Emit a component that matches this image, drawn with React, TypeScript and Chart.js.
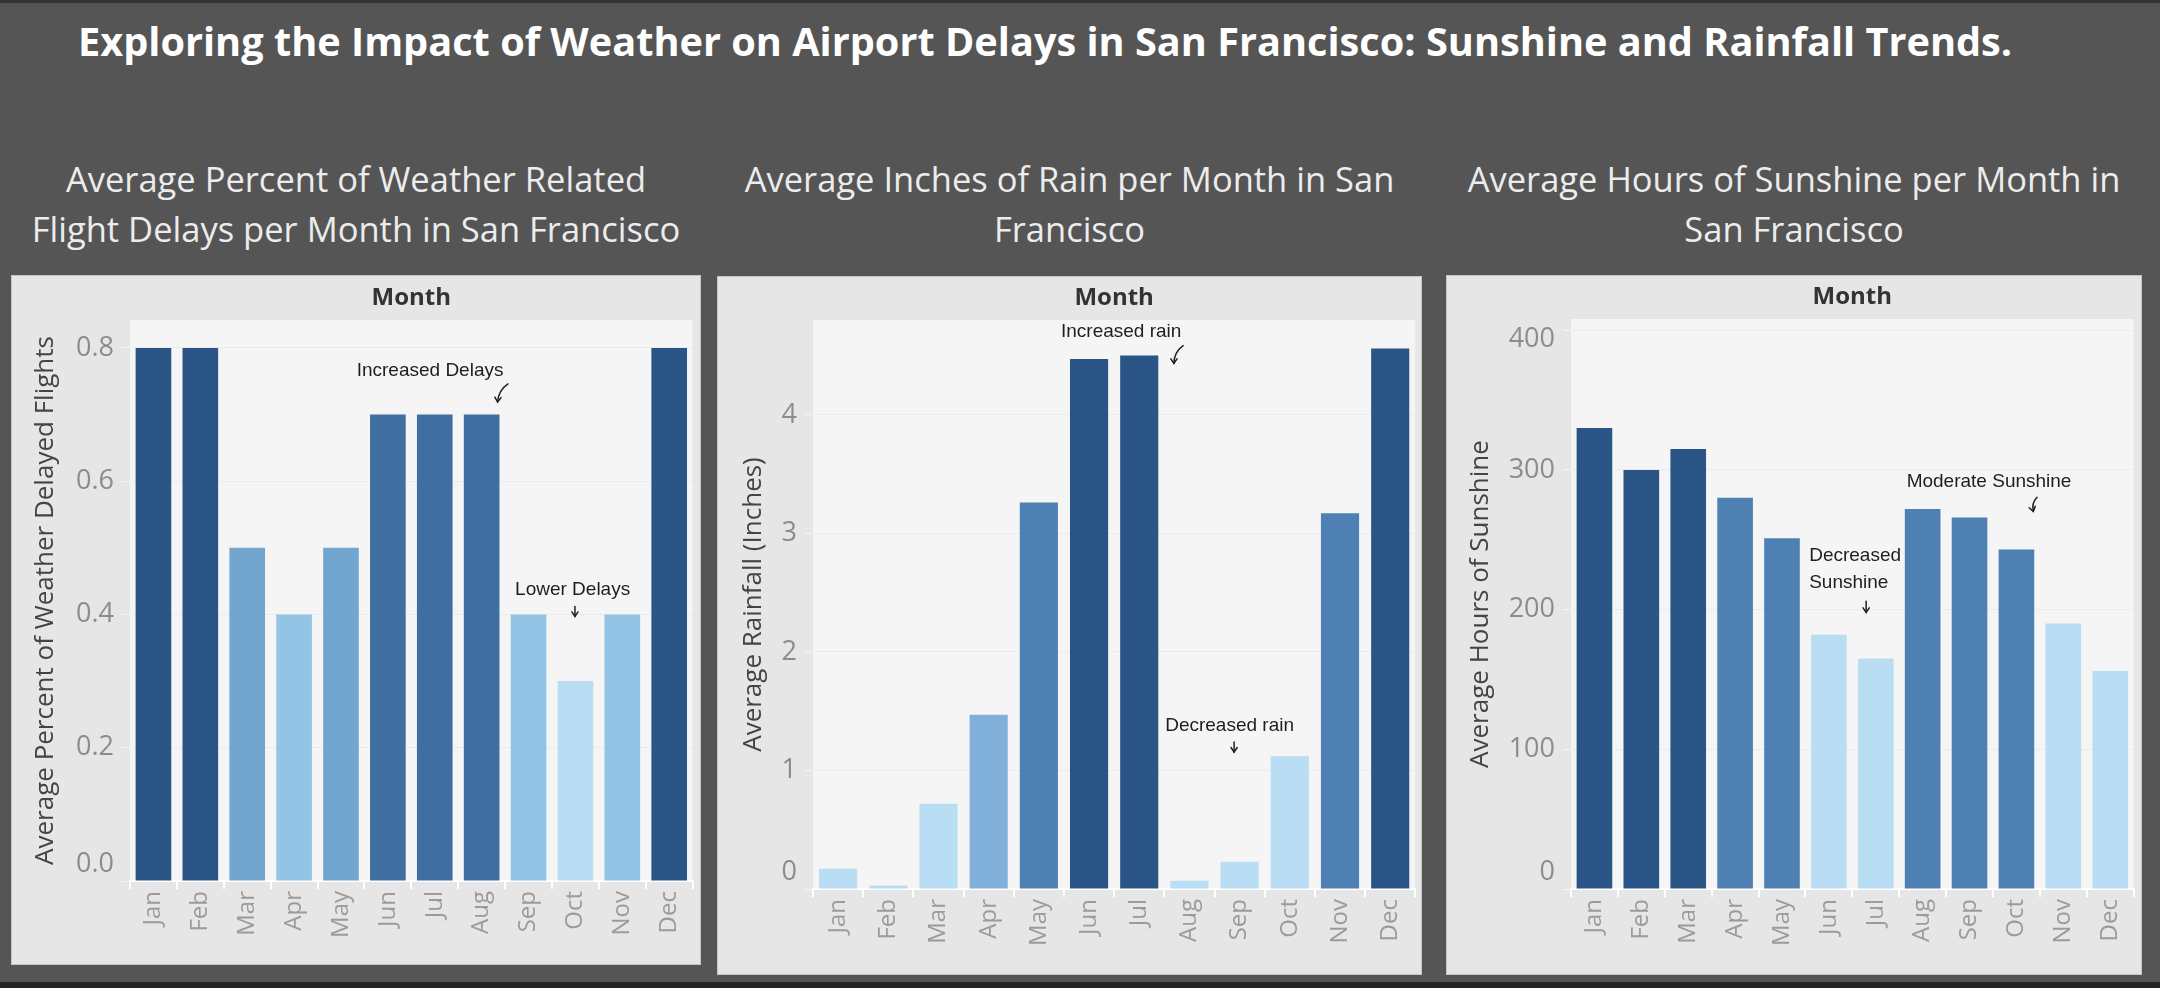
import React, { useEffect, useRef } from 'react';
import { Chart, registerables } from 'chart.js';

Chart.register(...registerables);

// ---------- data ----------
const months = ['Jan', 'Feb', 'Mar', 'Apr', 'May', 'Jun', 'Jul', 'Aug', 'Sep', 'Oct', 'Nov', 'Dec'];

const delayPercent = [0.8, 0.8, 0.5, 0.4, 0.5, 0.7, 0.7, 0.7, 0.4, 0.3, 0.4, 0.8];
const rainfallInches = [0.17, 0.03, 0.72, 1.47, 3.26, 4.47, 4.5, 0.07, 0.23, 1.12, 3.17, 4.56];
const sunshineHours = [330, 300, 315, 280, 251, 182, 165, 272, 266, 243, 190, 156];

const delayTickValues = [0, 0.2, 0.4, 0.6, 0.8];
const rainTickValues = [0, 1, 2, 3, 4];
const sunshineTickValues = [0, 100, 200, 300, 400];

// ---------- styles ----------
const DARK = '#2a5586';
const MID1 = '#3f6fa0';
const MID2 = '#4f80b3';
const MEDL = '#73a6cf';
const MEDL2 = '#80b0d9';
const LIGHT = '#93c3e5';
const PALE = '#b9ddf2';

const delayColors = [DARK, DARK, MEDL, LIGHT, MEDL, MID1, MID1, MID1, LIGHT, PALE, LIGHT, DARK];
const rainColors = [PALE, PALE, PALE, MEDL2, MID2, DARK, DARK, PALE, PALE, PALE, MID2, DARK];
const sunColors = [DARK, DARK, DARK, MID2, MID2, PALE, PALE, MID2, MID2, MID2, PALE, PALE];

const FONT = '"Open Sans", "Noto Sans", sans-serif';
const NOTE_FONT = '"Liberation Sans", Arial, sans-serif';

type Note = { lines: string[]; x: number; y: number; align: CanvasTextAlign };
type Arrow = { x0: number; y0: number; x1: number; y1: number; bend: number };

// annotation anchors, in category-index / value units
const delayNotes: Note[] = [
  { lines: ['Increased Delays'], x: 5.9, y: 0.758, align: 'center' },
  { lines: ['Lower Delays'], x: 8.94, y: 0.43, align: 'center' },
];
const delayArrows: Arrow[] = [
  { x0: 7.56, y0: 0.746, x1: 7.34, y1: 0.719, bend: 5 },
  { x0: 8.99, y0: 0.412, x1: 8.99, y1: 0.397, bend: 0 },
];
const rainNotes: Note[] = [
  { lines: ['Increased rain'], x: 5.64, y: 4.66, align: 'center' },
  { lines: ['Decreased rain'], x: 7.8, y: 1.334, align: 'center' },
];
const rainArrows: Arrow[] = [
  { x0: 6.875, y0: 4.583, x1: 6.69, y1: 4.434, bend: 5 },
  { x0: 7.89, y0: 1.241, x1: 7.89, y1: 1.155, bend: 0 },
];
const sunNotes: Note[] = [
  { lines: ['Moderate Sunshine'], x: 8.416, y: 287.6, align: 'center' },
  { lines: ['Decreased', 'Sunshine'], x: 4.58, y: 235, align: 'left' },
];
const sunArrows: Arrow[] = [
  { x0: 9.44, y0: 280.4, x1: 9.36, y1: 270.3, bend: 4 },
  { x0: 5.795, y0: 206, x1: 5.795, y1: 198, bend: 0 },
];

type Spec = {
  left: number; top: number; width: number; height: number;
  headerH: number; xAxisH: number; yAxisW: number;
  values: number[]; colors: string[]; max: number; ticks: number[];
  fmt: (v: number) => string; yTitle: string; yTitlePad: number;
  notes: Note[]; arrows: Arrow[]; subtitle: string[]; noteLineGap: number;
};

const specs: Spec[] = [
  {
    left: 12, top: 276, width: 688, height: 688, headerH: 44, xAxisH: 83, yAxisW: 118,
    values: delayPercent, colors: delayColors, max: 0.842, ticks: delayTickValues,
    fmt: (v) => v.toFixed(1), yTitle: 'Average Percent of Weather Delayed Flights', yTitlePad: 18,
    notes: delayNotes, arrows: delayArrows, noteLineGap: 27,
    subtitle: ['Average Percent of Weather Related', 'Flight Delays per Month in San Francisco'],
  },
  {
    left: 718, top: 277, width: 703, height: 697, headerH: 43, xAxisH: 85, yAxisW: 95,
    values: rainfallInches, colors: rainColors, max: 4.8, ticks: rainTickValues,
    fmt: (v) => String(v), yTitle: 'Average Rainfall (Inches)', yTitlePad: 20,
    notes: rainNotes, arrows: rainArrows, noteLineGap: 27,
    subtitle: ['Average Inches of Rain per Month in San', 'Francisco'],
  },
  {
    left: 1447, top: 276, width: 694, height: 698, headerH: 43, xAxisH: 85, yAxisW: 124,
    values: sunshineHours, colors: sunColors, max: 408, ticks: sunshineTickValues,
    fmt: (v) => String(v), yTitle: 'Average Hours of Sunshine', yTitlePad: 18,
    notes: sunNotes, arrows: sunArrows, noteLineGap: 27,
    subtitle: ['Average Hours of Sunshine per Month in', 'San Francisco'],
  },
];

function makeConfig(spec: Spec): any {
  const deco = {
    id: 'panelDeco',
    beforeDraw(chart: any) {
      const { ctx, chartArea: a, width, height } = chart;
      ctx.save();
      ctx.fillStyle = '#e6e6e6';
      ctx.fillRect(0, 0, width, height);
      ctx.fillStyle = '#f5f5f5';
      ctx.fillRect(a.left, a.top, a.right - a.left, a.bottom - a.top);
      ctx.fillStyle = '#333333';
      ctx.font = `bold 24px ${FONT}`;
      ctx.textAlign = 'center';
      ctx.textBaseline = 'middle';
      ctx.fillText('Month', (a.left + a.right) / 2, a.top - 22);
      ctx.restore();
    },
    afterDraw(chart: any) {
      const { ctx, chartArea: a } = chart;
      const xs = chart.scales.x;
      const ys = chart.scales.y;
      ctx.save();
      // y tick labels (kept inside the plot band like the original)
      ctx.font = `27px ${FONT}`;
      ctx.fillStyle = '#8c8c8c';
      ctx.textAlign = 'right';
      ctx.textBaseline = 'middle';
      for (const v of spec.ticks) {
        let py = ys.getPixelForValue(v);
        py = Math.min(Math.max(py, a.top + 20), a.bottom - 17);
        ctx.fillText(spec.fmt(v), a.left - 16, py);
      }
      // notes
      ctx.font = `19px ${NOTE_FONT}`;
      ctx.fillStyle = '#1e1e1e';
      ctx.textBaseline = 'alphabetic';
      for (const n of spec.notes) {
        ctx.textAlign = n.align;
        const px = xs.getPixelForValue(n.x);
        const py = ys.getPixelForValue(n.y);
        n.lines.forEach((l, i) => ctx.fillText(l, px, py + i * spec.noteLineGap));
      }
      // arrows
      ctx.strokeStyle = '#1e1e1e';
      ctx.lineWidth = 1.5;
      ctx.lineCap = 'round';
      for (const ar of spec.arrows) {
        const sx = xs.getPixelForValue(ar.x0), sy = ys.getPixelForValue(ar.y0);
        const ex = xs.getPixelForValue(ar.x1), ey = ys.getPixelForValue(ar.y1);
        const dx = ex - sx, dy = ey - sy;
        const len = Math.hypot(dx, dy) || 1;
        const nx = dy / len, ny = -dx / len;
        const cx = (sx + ex) / 2 - nx * ar.bend, cy = (sy + ey) / 2 - ny * ar.bend;
        ctx.beginPath();
        ctx.moveTo(sx, sy);
        ctx.quadraticCurveTo(cx, cy, ex, ey);
        ctx.stroke();
        const tx = ex - cx, ty = ey - cy;
        const ang = Math.atan2(ty, tx);
        const h = 5.5;
        ctx.beginPath();
        ctx.moveTo(ex - h * Math.cos(ang - 0.6), ey - h * Math.sin(ang - 0.6));
        ctx.lineTo(ex, ey);
        ctx.lineTo(ex - h * Math.cos(ang + 0.6), ey - h * Math.sin(ang + 0.6));
        ctx.stroke();
      }
      ctx.restore();
    },
  };

  return {
    type: 'bar',
    data: {
      labels: months,
      datasets: [
        {
          data: spec.values,
          backgroundColor: spec.colors,
          borderWidth: 0,
          barPercentage: 0.76,
          categoryPercentage: 1,
        },
      ],
    },
    options: {
      animation: false,
      responsive: false,
      maintainAspectRatio: false,
      layout: { padding: { top: spec.headerH, left: 0, right: 0, bottom: 0 } },
      plugins: {
        legend: { display: false },
        tooltip: { enabled: false },
        title: { display: false },
      },
      scales: {
        x: {
          type: 'category',
          offset: true,
          grid: {
            display: true,
            offset: true,
            drawOnChartArea: false,
            drawTicks: true,
            tickLength: 8,
            color: '#ffffff',
            lineWidth: 2,
          },
          border: { display: true, color: '#ffffff', width: 2 },
          ticks: {
            color: '#9b9b9b',
            font: { family: FONT, size: 24 },
            minRotation: 90,
            maxRotation: 90,
            padding: 2,
            autoSkip: false,
          },
          afterFit: (s: any) => {
            s.height = spec.xAxisH;
          },
        },
        y: {
          min: 0,
          max: spec.max,
          afterBuildTicks: (s: any) => {
            s.ticks = spec.ticks.map((v) => ({ value: v }));
          },
          ticks: {
            color: 'rgba(0,0,0,0)',
            font: { family: FONT, size: 27 },
            callback: (v: any) => spec.fmt(Number(v)),
          },
          grid: {
            color: '#ebebeb',
            lineWidth: 1,
            tickLength: 8,
            tickColor: '#f4f4f4',
          },
          border: { display: true, color: '#f4f4f4', width: 1 },
          title: {
            display: true,
            text: spec.yTitle,
            color: '#444444',
            font: { family: FONT, size: 26 },
            padding: { top: spec.yTitlePad, bottom: 0 },
          },
          afterFit: (s: any) => {
            s.width = spec.yAxisW;
          },
        },
      },
    },
    plugins: [deco],
  };
}

function Panel({ spec }: { spec: Spec }) {
  const ref = useRef<HTMLCanvasElement>(null);
  useEffect(() => {
    if (!ref.current) return;
    const chart = new Chart(ref.current, makeConfig(spec));
    return () => chart.destroy();
  }, [spec]);
  return (
    <div
      style={{
        position: 'absolute',
        left: spec.left,
        top: spec.top,
        width: spec.width,
        height: spec.height,
        background: '#e6e6e6',
        boxShadow: '0 0 0 1px #c4c4c4',
      }}
    >
      <canvas
        ref={ref}
        width={spec.width}
        height={spec.height}
        style={{ display: 'block', width: spec.width, height: spec.height }}
      />
    </div>
  );
}

export default function App() {
  return (
    <div
      style={{
        position: 'fixed',
        left: 0,
        top: 0,
        width: 2160,
        height: 988,
        background: '#555555',
        overflow: 'hidden',
        fontFamily: FONT,
      }}
    >
      <div style={{ position: 'absolute', left: 0, top: 0, width: 2160, height: 3, background: '#333333' }} />
      <div style={{ position: 'absolute', left: 0, top: 982, width: 2160, height: 6, background: '#242424' }} />
      <div
        style={{
          position: 'absolute',
          left: 78,
          top: 15,
          whiteSpace: 'nowrap',
          color: '#ffffff',
          fontWeight: 700,
          fontSize: 39.7,
          lineHeight: '52px',
        }}
      >
        Exploring the Impact of Weather on Airport Delays in San Francisco: Sunshine and Rainfall Trends.
      </div>
      {specs.map((s, i) => (
        <div
          key={'sub' + i}
          style={{
            position: 'absolute',
            left: s.left,
            top: 154,
            width: s.width,
            textAlign: 'center',
            color: '#ececec',
            fontSize: 34.5,
            lineHeight: '50px',
            whiteSpace: 'nowrap',
          }}
        >
          {s.subtitle.map((l, j) => (
            <div key={j}>{l}</div>
          ))}
        </div>
      ))}
      {specs.map((s, i) => (
        <Panel key={i} spec={s} />
      ))}
    </div>
  );
}
